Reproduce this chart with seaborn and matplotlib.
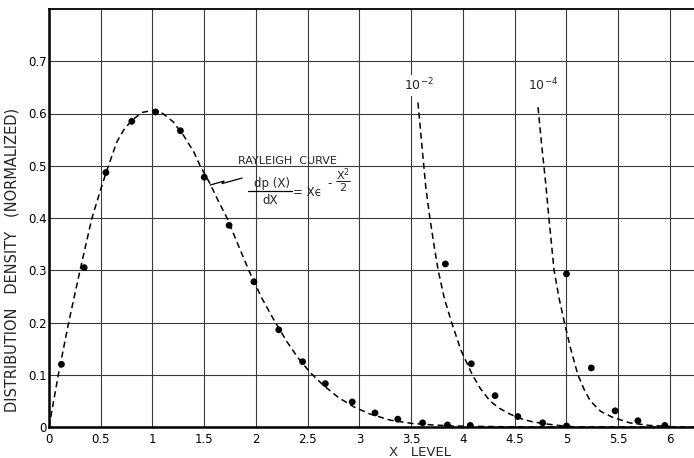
import numpy as np
import pandas as pd
import matplotlib
matplotlib.use("Agg")
import matplotlib.pyplot as plt
from matplotlib.lines import Line2D
import seaborn as sns

# ---------------- data ----------------
# Rayleigh measured points
ray_dot_x = [0.12, 0.34, 0.55, 0.80, 1.03, 1.27, 1.50, 1.74, 1.98, 2.22, 2.45,
             2.67, 2.93, 3.15, 3.37, 3.61, 3.85, 4.07]
ray_dot_y = [0.120, 0.305, 0.487, 0.585, 0.603, 0.567, 0.478, 0.386, 0.278,
             0.186, 0.125, 0.083, 0.048, 0.027, 0.015, 0.008, 0.004, 0.003]

# 10^-2 measured points
e2_dot_x = [3.83, 4.08, 4.31, 4.53, 4.77, 5.00]
e2_dot_y = [0.312, 0.121, 0.060, 0.020, 0.008, 0.002]

# 10^-4 measured points
e4_dot_x = [5.00, 5.24, 5.47, 5.69, 5.95]
e4_dot_y = [0.293, 0.113, 0.031, 0.012, 0.003]

# Rayleigh dashed curve
ray_curve_x = [0.0, 0.09, 0.19, 0.30, 0.415, 0.50, 0.55, 0.654, 0.72, 0.80,
               0.90, 1.00, 1.10, 1.20, 1.30, 1.40, 1.46, 1.55, 1.63, 1.72,
               1.82, 1.93, 2.05, 2.17, 2.30, 2.40, 2.52, 2.65, 2.80, 2.95,
               3.10, 3.30, 3.50, 3.70, 3.90, 4.20, 4.60, 5.00, 5.50, 6.00,
               6.25]
ray_curve_y = [0.0, 0.100, 0.200, 0.300, 0.400, 0.455, 0.486, 0.545, 0.568,
               0.587, 0.602, 0.606, 0.600, 0.584, 0.558, 0.526, 0.500, 0.468,
               0.435, 0.400, 0.352, 0.300, 0.249, 0.206, 0.163, 0.134, 0.105,
               0.080, 0.056, 0.038, 0.025, 0.013, 0.007, 0.004, 0.002, 0.001,
               0.0, 0.0, 0.0, 0.0, 0.0]

# 10^-2 dashed curve
e2_curve_x = [3.565, 3.60, 3.64, 3.68, 3.72, 3.76, 3.82, 3.89, 3.98, 4.09,
              4.17, 4.26, 4.35, 4.45, 4.56, 4.67, 4.80, 4.92, 5.05]
e2_curve_y = [0.621, 0.545, 0.460, 0.400, 0.348, 0.300, 0.246, 0.200, 0.147,
              0.100, 0.073, 0.050, 0.036, 0.025, 0.016, 0.010, 0.006, 0.003,
              0.001]

# 10^-4 dashed curve
e4_curve_x = [4.725, 4.76, 4.80, 4.83, 4.855, 4.88, 4.93, 4.98, 5.04, 5.11,
              5.17, 5.23, 5.33, 5.44, 5.61, 5.80, 6.00]
e4_curve_y = [0.612, 0.540, 0.465, 0.400, 0.350, 0.300, 0.245, 0.200, 0.150,
              0.100, 0.072, 0.050, 0.030, 0.019, 0.008, 0.003, 0.001]

x_ticks = [0, 0.5, 1, 1.5, 2, 2.5, 3, 3.5, 4, 4.5, 5, 5.5, 6]
x_tick_labels = ['0', '0.5', '1', '1.5', '2', '2.5', '3', '3.5', '4', '4.5',
                 '5', '5.5', '6']
y_ticks = [0, 0.1, 0.2, 0.3, 0.4, 0.5, 0.6, 0.7]
y_tick_labels = ['0', '0.1', '0.2', '0.3', '0.4', '0.5', '0.6', '0.7']

# ---------------- style ----------------
sns.set_style("white")
plt.rcParams['font.family'] = ['DejaVu Sans']
plt.rcParams['mathtext.fontset'] = 'dejavusans'

fig = plt.figure(figsize=(6.94, 4.58), dpi=100)
ax = fig.add_axes([49 / 694, 31 / 458, 645 / 694, 418 / 458])

dash = (0, (4, 2.6))
for cx, cy in [(ray_curve_x, ray_curve_y), (e2_curve_x, e2_curve_y),
               (e4_curve_x, e4_curve_y)]:
    sns.lineplot(x=cx, y=cy, ax=ax, color='black', lw=1.1, linestyle=dash,
                 estimator=None, sort=False, zorder=3)

for dx, dy in [(ray_dot_x, ray_dot_y), (e2_dot_x, e2_dot_y),
               (e4_dot_x, e4_dot_y)]:
    sns.scatterplot(x=dx, y=dy, ax=ax, color='black', s=24,
                    edgecolor='none', zorder=4)

ax.set_xlim(0, 6.232)
ax.set_ylim(0, 0.8)
ax.set_xticks(x_ticks)
ax.set_xticklabels(x_tick_labels)
ax.set_yticks(y_ticks)
ax.set_yticklabels(y_tick_labels)
ax.tick_params(axis='both', length=0, labelsize=8.5, colors='black')
ax.tick_params(axis='x', pad=4)
ax.tick_params(axis='y', pad=1.5)

ax.grid(True, color='#3a3a3a', lw=0.8)
ax.set_axisbelow(True)
ax.spines['right'].set_visible(False)
for s in ['left', 'bottom']:
    ax.spines[s].set_color('black')
    ax.spines[s].set_linewidth(1.8)
ax.spines['top'].set_color('black')
ax.spines['top'].set_linewidth(1.3)

ax.set_xlabel('X   LEVEL', fontsize=9.5)
ax.xaxis.set_label_coords(0.575, -0.045)
ax.set_ylabel('DISTRIBUTION   DENSITY   (NORMALIZED)', fontsize=10.5)
ax.yaxis.set_label_coords(-0.045, 0.40)

# ---------------- annotations ----------------
fs = 8.5
ax.text(1.826, 0.509, 'RAYLEIGH  CURVE', fontsize=8, ha='left',
        va='center', zorder=5)
# formula dp(X)/dX = X e^(-X^2/2), built from pieces
ax.text(2.15, 0.466, 'dp (X)', fontsize=fs, ha='center', va='center', zorder=5)
ax.plot([1.925, 2.345], [0.451, 0.451], color='black', lw=0.9, zorder=5)
ax.text(2.135, 0.434, 'dX', fontsize=fs, ha='center', va='center', zorder=5)
ax.text(2.355, 0.448, '= X\u03f5', fontsize=fs, ha='left', va='center',
        zorder=5)
ax.text(2.715, 0.466, '-', fontsize=fs, ha='center', va='center', zorder=5)
ax.text(2.84, 0.483, r'X$^{2}$', fontsize=8, ha='center', va='center',
        zorder=5)
ax.plot([2.77, 2.91], [0.4705, 0.4705], color='black', lw=0.6, zorder=5)
ax.text(2.84, 0.457, '2', fontsize=8, ha='center', va='center', zorder=5)

# zig-zag leader from formula to curve (pixel offsets from the anchor)
anchor = (1.556, 0.463)
zx = np.array([0, 14, 12, 32])
zy = np.array([0, 4, 1.5, 7])
pts = ax.transData.transform([anchor])[0]
disp = np.column_stack([pts[0] + zx, pts[1] + zy])
dat = ax.transData.inverted().transform(disp)
ax.add_line(Line2D(dat[:, 0], dat[:, 1], color='black', lw=0.9, zorder=5))

for lx, lab in [(3.575, r'$\mathrm{10}^{-2}$'), (4.77, r'$\mathrm{10}^{-4}$')]:
    ax.text(lx, 0.654, lab, fontsize=9, ha='center', va='center', zorder=5,
            bbox=dict(facecolor='white', edgecolor='none', pad=1.5))

fig.savefig('out.png', dpi=100)
